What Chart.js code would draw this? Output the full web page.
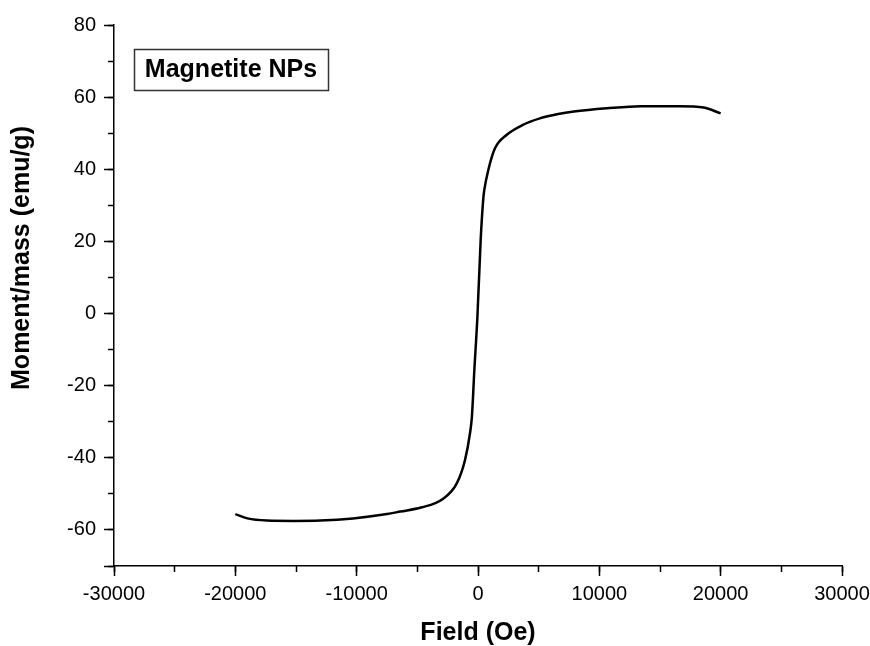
<!DOCTYPE html>
<html>
<head>
<meta charset="utf-8">
<script src="https://cdn.jsdelivr.net/npm/chart.js@4.4.0/dist/chart.umd.min.js"></script>
<style>
  html, body { margin: 0; padding: 0; background: #fff; }
  #wrap { width: 870px; height: 646px; }
</style>
</head>
<body>
<div id="wrap"><canvas id="hyst" width="870" height="646"></canvas></div>
<script>
/* M-H loop, values */
var fieldOe = [-20000, -19000, -17400, -15200, -13000, -10300, -7500, -6400, -4700, -2900,
               -1750, -1070, -660, -500, -300, -50, 220, 440, 520, 850,
               1400, 2350, 3700, 5100, 6600, 7900, 10600, 13400, 16600, 18600, 20000];
var momentEmu = [-55.6, -56.8, -57.4, -57.5, -57.4, -56.8, -55.6, -54.9, -53.8, -51.4,
                 -47.1, -40.6, -33.2, -28.5, -15.6, -1.0, 20.4, 32.0, 34.3, 39.8,
                 45.8, 49.5, 52.3, 54.1, 55.3, 56.0, 56.9, 57.5, 57.5, 57.1, 55.5];
var xTicks = [-30000, 30000, 10000];   // min, max, step
var yTicks = [-70, 80, 20];
var legendText = "Magnetite NPs";
var yTitle = "Moment/mass (emu/g)";

var points = fieldOe.map(function (f, i) { return { x: f, y: momentEmu[i] }; });

var tickFont = { family: "'Liberation Sans', Arial, sans-serif", size: 20 };
var titleFont = { family: "'Liberation Sans', Arial, sans-serif", size: 25, weight: 'bold', lineHeight: 1.0 };

// no label overflow padding, fixed box sizes so the plot area sits where it should
function fixBox(w, h) {
    return function (scale) {
        if (w !== null) scale.width = w;
        if (h !== null) scale.height = h;
        scale.paddingLeft = 0; scale.paddingRight = 0;
        scale.paddingTop = 0; scale.paddingBottom = 0;
    };
}

var labels = {
    id: 'labels',
    afterDraw: function (chart) {
        var ctx = chart.ctx;
        ctx.save();
        // legend box
        ctx.strokeStyle = '#333';
        ctx.lineWidth = 1.5;
        ctx.strokeRect(134.5, 49.5, 194, 41);
        ctx.fillStyle = '#000';
        ctx.font = "bold 25px 'Liberation Sans', Arial, sans-serif";
        ctx.textBaseline = 'alphabetic';
        ctx.textAlign = 'center';
        ctx.fillText(legendText, 231, 77);
        // y axis title (sits a bit above the plot centre in the original)
        ctx.translate(22, 258);
        ctx.rotate(-Math.PI / 2);
        ctx.textBaseline = 'middle';
        ctx.fillText(yTitle, 0, 0);
        ctx.restore();
    }
};

var ctx = document.getElementById("hyst").getContext("2d");
var myChart = new Chart(ctx, {
    type: 'scatter',
    data: {
        datasets: [{
            data: points,
            showLine: true,
            borderColor: '#000',
            borderWidth: 2.5,
            pointRadius: 0,
            cubicInterpolationMode: 'monotone',
            xAxisID: 'x',
            yAxisID: 'y'
        }]
    },
    options: {
        responsive: false,
        animation: false,
        events: [],
        layout: { padding: { left: 0, right: 28, top: 25, bottom: 0 } },
        plugins: { legend: { display: false }, tooltip: { enabled: false } },
        scales: {
            x: {
                type: 'linear',
                position: 'bottom',
                min: xTicks[0], max: xTicks[1],
                afterFit: fixBox(null, 80),
                ticks: { stepSize: xTicks[2], color: '#000', font: tickFont, padding: 6, maxRotation: 0,
                         callback: function (v) { return String(v); } },
                grid: { drawOnChartArea: false, tickLength: 10, tickColor: '#000', tickWidth: 1.5 },
                border: { color: '#000', width: 1.5 },
                title: { display: true, text: 'Field (Oe)', color: '#000', font: titleFont, padding: { top: 0, bottom: 0 } }
            },
            y: {
                type: 'linear',
                position: 'left',
                min: yTicks[0], max: yTicks[1],
                afterFit: fixBox(114, null),
                ticks: { stepSize: yTicks[2], color: '#000', font: tickFont, padding: 8,
                         callback: function (v) { return v === yTicks[0] ? '' : String(v); } },
                grid: { drawOnChartArea: false, tickLength: 10, tickColor: '#000', tickWidth: 1.5 },
                border: { color: '#000', width: 1.5 }
            },
            x2: {
                type: 'linear',
                position: { y: yTicks[0] },
                min: xTicks[0], max: xTicks[1],
                ticks: { stepSize: xTicks[2] / 2, callback: function () { return ''; } },
                grid: { drawOnChartArea: false, tickLength: 6, tickColor: '#000', tickWidth: 1.5 },
                border: { display: false }
            },
            y2: {
                type: 'linear',
                position: { x: xTicks[0] },
                min: yTicks[0], max: yTicks[1],
                ticks: { stepSize: yTicks[2] / 2, callback: function () { return ''; } },
                grid: { drawOnChartArea: false, tickLength: 6, tickColor: '#000', tickWidth: 1.5 },
                border: { display: false }
            }
        }
    },
    plugins: [labels]
});
</script>
</body>
</html>
